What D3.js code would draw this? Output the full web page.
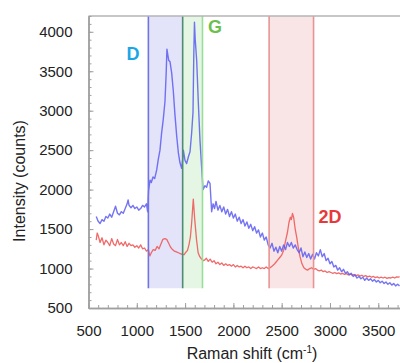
<!DOCTYPE html>
<html><head><meta charset="utf-8">
<script src="https://cdn.jsdelivr.net/npm/d3@7"></script>
<style>body{margin:0;background:#fff;} svg{display:block;font-family:"Liberation Sans",Arial,sans-serif;}</style>
</head><body>
<svg id="c" width="400" height="363"></svg>
<script>
// Raman spectra: [wavenumber (cm-1), intensity (counts)]
const blueSpectrum = [
[580,1660],[600,1600],[620,1570],[640,1620],[660,1600],[680,1660],[700,1640],[720,1690],[740,1650],[760,1720],
[780,1790],[800,1700],[820,1680],[840,1720],[860,1700],[880,1760],[900,1820],[910,1870],[920,1800],[940,1770],
[960,1800],[980,1760],[1000,1780],[1020,1740],[1040,1760],[1060,1800],[1080,1780],[1100,1820],[1112,1720],[1122,1990],
[1137,2120],[1150,2090],[1168,2160],[1185,2140],[1206,2250],[1222,2380],[1240,2500],[1257,2720],[1274,2890],[1292,3120],
[1305,3500],[1312,3780],[1322,3700],[1330,3640],[1344,3620],[1361,3480],[1378,3250],[1395,2950],[1413,2680],[1430,2470],
[1447,2340],[1464,2270],[1475,2380],[1482,2500],[1499,2370],[1516,2330],[1535,2420],[1551,2480],[1568,2720],[1582,2980],
[1590,3700],[1597,4120],[1605,3900],[1620,3640],[1637,3100],[1654,2630],[1671,2290],[1686,2000],[1705,2050],[1723,2030],
[1740,2110],[1758,2080],[1775,1720],[1790,1820],[1805,1760],[1820,1850],[1840,1740],[1860,1800],[1880,1720],[1900,1780],
[1920,1690],[1940,1750],[1960,1660],[1980,1720],[2000,1640],[2020,1690],[2040,1600],[2060,1650],[2080,1570],[2100,1620],
[2120,1540],[2140,1590],[2160,1510],[2180,1560],[2200,1480],[2220,1530],[2240,1450],[2260,1490],[2280,1400],[2300,1450],
[2320,1360],[2340,1400],[2360,1300],[2380,1260],[2400,1320],[2420,1220],[2440,1270],[2460,1200],[2480,1280],[2500,1220],
[2520,1300],[2540,1240],[2560,1330],[2580,1280],[2600,1330],[2620,1260],[2640,1300],[2660,1240],[2680,1200],[2700,1260],
[2720,1150],[2740,1210],[2760,1140],[2780,1190],[2800,1120],[2820,1180],[2840,1120],[2860,1200],[2880,1160],[2900,1240],
[2920,1150],[2940,1190],[2960,1100],[2980,1130],[3000,1060],[3020,1090],[3040,1020],[3060,1040],[3080,980],[3100,1010],
[3120,960],[3140,990],[3160,940],[3180,960],[3200,920],[3220,940],[3240,900],[3260,920],[3280,880],[3300,900],
[3320,870],[3340,890],[3360,850],[3380,880],[3400,850],[3420,870],[3440,840],[3460,860],[3480,830],[3500,850],
[3520,820],[3540,840],[3560,810],[3580,830],[3600,800],[3620,820],[3640,790],[3660,810],[3680,780],[3700,800],[3720,780]
];
const redSpectrum = [
[580,1360],[590,1450],[600,1420],[620,1330],[640,1390],[660,1300],[680,1360],[700,1330],[720,1290],[740,1380],
[760,1310],[780,1290],[800,1370],[820,1300],[840,1330],[860,1290],[880,1340],[900,1280],[920,1320],[940,1290],
[960,1300],[980,1270],[1000,1290],[1020,1260],[1040,1300],[1060,1250],[1080,1260],[1100,1220],[1120,1240],[1135,1160],
[1150,1200],[1170,1240],[1190,1230],[1210,1280],[1230,1250],[1250,1310],[1270,1370],[1290,1380],[1310,1370],[1330,1320],
[1350,1270],[1370,1240],[1390,1220],[1410,1210],[1430,1200],[1450,1190],[1470,1180],[1490,1175],[1510,1210],[1525,1230],
[1540,1300],[1555,1400],[1568,1580],[1585,1880],[1600,1620],[1618,1370],[1635,1200],[1652,1150],[1670,1120],[1690,1100],
[1705,1110],[1720,1130],[1740,1090],[1760,1120],[1780,1080],[1800,1100],[1820,1060],[1840,1080],[1860,1050],[1880,1070],
[1900,1040],[1920,1060],[1940,1040],[1960,1050],[1980,1030],[2000,1050],[2020,1020],[2040,1040],[2060,1020],[2080,1030],
[2100,1010],[2120,1030],[2140,1010],[2160,1020],[2180,1000],[2200,1020],[2220,1010],[2240,1000],[2260,1020],[2280,1000],
[2300,1010],[2320,1000],[2340,1020],[2360,1000],[2380,1010],[2400,1030],[2420,1050],[2440,1080],[2460,1110],[2480,1140],
[2500,1170],[2520,1230],[2540,1350],[2560,1460],[2575,1580],[2590,1650],[2600,1620],[2612,1700],[2625,1640],[2640,1500],
[2655,1400],[2670,1280],[2690,1150],[2710,1060],[2730,1010],[2750,990],[2770,980],[2790,1000],[2810,1010],[2830,990],
[2850,1000],[2870,980],[2890,970],[2910,980],[2930,960],[2950,970],[2970,950],[2990,960],[3010,950],[3030,940],
[3050,950],[3070,935],[3090,945],[3110,930],[3130,940],[3150,925],[3170,935],[3190,920],[3210,930],[3230,915],
[3250,925],[3270,910],[3290,920],[3310,905],[3330,915],[3350,900],[3370,910],[3390,895],[3410,905],[3430,890],
[3450,900],[3470,885],[3490,895],[3510,880],[3530,890],[3550,880],[3570,890],[3590,875],[3610,885],[3630,880],
[3650,890],[3670,880],[3690,895],[3710,890],[3720,900]
];
const bandNames = ["D", "G", "2D"];
const bandStart = [1120, 1475, 2370];
const bandEnd = [1475, 1680, 2830];
const bandFloor = 750;
const xMajorTicks = [500, 1000, 1500, 2000, 2500, 3000, 3500];
const yMajorTicks = [500, 1000, 1500, 2000, 2500, 3000, 3500, 4000];

const svg = d3.select("#c");
const x = d3.scaleLinear().domain([500, 3725]).range([88.5, 400]);
const y = d3.scaleLinear().domain([500, 4200]).range([308, 16]);
const xMinor = d3.range(500, 3725, 100);
const yMinor = d3.range(500, 4201, 100);

svg.append("clipPath").attr("id", "clip").append("rect")
  .attr("x", x(500)).attr("y", y(4200)).attr("width", 400 - x(500)).attr("height", y(500) - y(4200));

// bands
const bandFill = ["#e3e3fa", "#e5f6e5", "#f9e5e5"];
const bands = svg.append("g");
bandNames.forEach((n, i) => {
  bands.append("rect").attr("x", x(bandStart[i])).attr("y", y(4200))
    .attr("width", x(bandEnd[i]) - x(bandStart[i])).attr("height", y(bandFloor) - y(4200))
    .attr("fill", bandFill[i]);
});

// spectra
const line = d3.line().x(d => x(d[0])).y(d => y(d[1]));
const plot = svg.append("g").attr("clip-path", "url(#clip)");
plot.append("path").datum(redSpectrum).attr("d", line).attr("fill", "none")
  .attr("stroke", "#ee5a5a").attr("stroke-width", 1.3).attr("stroke-opacity", 0.9).attr("stroke-linejoin", "round");
plot.append("path").datum(blueSpectrum).attr("d", line).attr("fill", "none")
  .attr("stroke", "#5c5cf2").attr("stroke-width", 1.4).attr("stroke-opacity", 0.85).attr("stroke-linejoin", "round");

// band edges
const edges = [
  [bandStart[0], "#7272e2"], [bandEnd[0], "#4e8e70"], [bandEnd[1], "#9ade9a"],
  [bandStart[2], "#e89494"], [bandEnd[2], "#e89494"]
];
edges.forEach(e => {
  svg.append("line").attr("x1", x(e[0])).attr("x2", x(e[0]))
    .attr("y1", y(4200)).attr("y2", y(bandFloor)).attr("stroke", e[1]).attr("stroke-width", 1.6);
});

// band labels
const labelColor = ["#1aa6e6", "#6cbf4c", "#e63a3a"];
const labelPos = [[133, 3640], [215, 3990], [330, 1580]];
bandNames.forEach((n, i) => {
  svg.append("text")
    .attr("transform", `translate(${labelPos[i][0]},${y(labelPos[i][1])})`)
    .attr("text-anchor", "middle").attr("font-size", 18).attr("font-weight", "bold")
    .attr("fill", labelColor[i]).text(n);
});

// frame
svg.append("line").attr("x1", x(500)).attr("x2", 400).attr("y1", y(4200)).attr("y2", y(4200))
  .attr("stroke", "#b4b4b4").attr("stroke-width", 1.5);

// axes: inward ticks
const axisColor = "#a0a0a0";
const gx = svg.append("g").attr("transform", `translate(0,${y(500)})`);
gx.call(d3.axisTop(x).tickValues(xMinor).tickSize(3).tickFormat("").tickSizeOuter(0));
gx.call(g => g.append("g").call(d3.axisTop(x).tickValues(xMajorTicks).tickSize(5).tickFormat("").tickSizeOuter(0)));
gx.append("g").call(d3.axisBottom(x).tickValues(xMajorTicks).tickSize(0).tickPadding(17).tickFormat(d3.format("d")))
  .call(g => g.select(".domain").remove());
const gy = svg.append("g").attr("transform", `translate(${x(500)},0)`);
gy.call(d3.axisRight(y).tickValues(yMinor).tickSize(3).tickFormat("").tickSizeOuter(0));
gy.call(g => g.append("g").call(d3.axisRight(y).tickValues(yMajorTicks).tickSize(5).tickFormat("").tickSizeOuter(0)));
gy.append("g").call(d3.axisLeft(y).tickValues(yMajorTicks).tickSize(0).tickPadding(16).tickFormat(d3.format("d")))
  .call(g => g.select(".domain").remove());
svg.selectAll(".domain").attr("stroke", axisColor).attr("stroke-width", 1.5);
svg.selectAll(".tick line").attr("stroke", axisColor);
svg.selectAll(".tick text").attr("font-size", 15).attr("fill", "#222").attr("font-family", "Liberation Sans, Arial, sans-serif");

// axis titles
const xt = svg.append("text").attr("x", 252).attr("y", 359).attr("text-anchor", "middle")
  .attr("font-size", 16).attr("fill", "#222");
xt.append("tspan").text("Raman shift (cm");
xt.append("tspan").attr("font-size", 10).attr("dy", -6).text("-1");
xt.append("tspan").attr("dy", 6).text(")");
svg.append("text").attr("transform", "translate(25,181) rotate(-90)").attr("text-anchor", "middle")
  .attr("font-size", 16).attr("fill", "#222").text("Intensity (counts)");
</script></body></html>
